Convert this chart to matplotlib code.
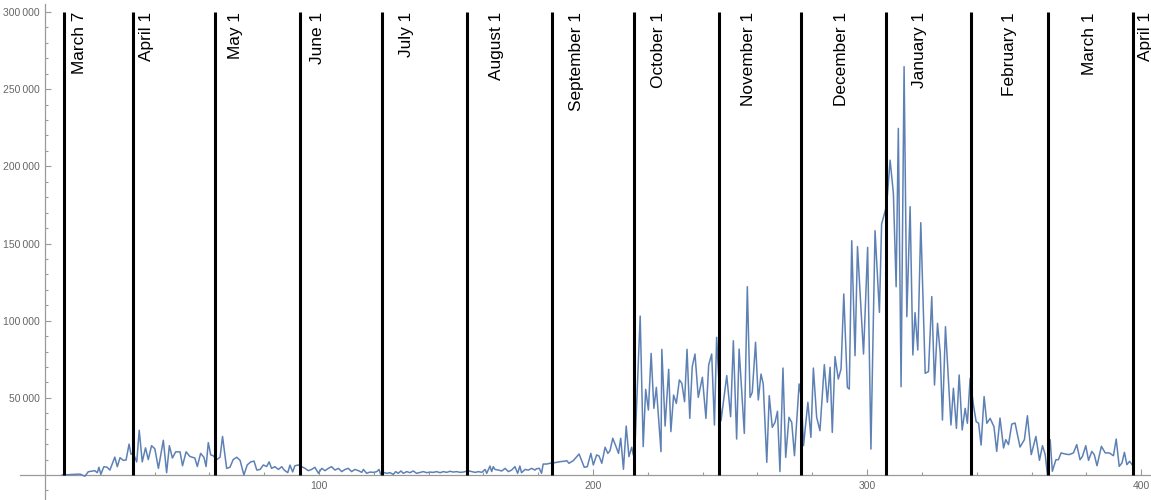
import matplotlib.pyplot as plt
from matplotlib.ticker import FixedLocator, FuncFormatter

# day index (March 1 2020 = day 1) and daily values
days = [
    6.3, 12.8, 14.6, 15.8, 18.2, 19.1, 19.7, 20.4, 21.5, 22.7, 23.7, 25.5, 26.4, 27.4,
    28.6, 29.6, 30.7, 31.4, 32.2, 33.5, 34.4, 35.5, 36.7, 37.7, 38.9, 40.1, 41.4, 43.2,
    44.4, 45.4, 46.5, 47.7, 49.3, 50.2, 51.5, 52.9, 54.7, 55.6, 56.8, 58.0, 58.8, 59.6,
    60.5, 61.4, 62.7, 63.9, 64.8, 66.3, 67.5, 68.7, 70.0, 71.2, 72.6, 73.8, 75.1, 76.3,
    77.3, 78.5, 79.7, 80.9, 81.8, 82.7, 83.9, 85.2, 86.4, 87.3, 88.6, 89.4, 90.4, 91.2,
    92.5,
    93.7, 94.9, 96.1, 97.3, 98.5, 99.8, 101.0, 102.2, 103.4, 104.6, 105.8, 107.1, 108.3,
    109.5, 110.7, 111.9, 113.1, 114.4, 115.6, 116.2, 117.4, 118.6, 119.9, 121.1, 121.9,
    122.5, 123.5, 124.7, 125.9, 127.1, 128.0, 128.9, 129.9, 130.8, 132.0, 133.2, 134.4,
    135.6, 136.9, 138.1, 139.3, 140.5, 141.7, 142.9, 144.2, 145.4, 146.6, 147.8, 149.0,
    150.2, 151.5, 152.7, 154.5, 155.7, 157.0, 158.2, 159.4, 160.6, 161.2, 162.4, 163.0,
    163.6, 164.2, 165.5, 166.7, 167.9, 169.1, 170.3, 171.5, 172.5, 173.3, 173.9, 175.2,
    176.4, 177.6, 178.8, 179.4, 180.4, 181.2, 181.8, 183.1, 184.3, 186.1, 187.9, 189.8,
    190.4, 191.2, 192.8, 194.9, 196.8, 197.9, 199.2, 200.1, 201.3, 202.2, 203.2, 204.4,
    205.4, 206.2, 207.2, 208.3, 209.3, 210.1, 211.1, 212.1, 213.1, 214.1, 214.7, 215.3,
    217.2, 218.3, 219.2, 220.2, 221.2, 222.2, 223.1, 224.8, 225.1, 226.3, 227.6, 228.4,
    229.4, 230.4, 231.5, 232.4, 233.4, 234.3, 235.3, 236.2, 237.2, 238.4, 239.9, 241.2,
    242.2, 243.3, 244.3,
    245.1, 246.7, 248.8, 250.2, 251.2, 252.4, 253.3, 255.2, 256.3, 257.3, 258.1, 259.3,
    260.3, 261.3, 262.1, 263.4, 264.3, 265.4, 266.4, 267.3, 268.2, 269.3, 270.3, 271.5,
    272.5, 273.5, 275.2, 276.0, 276.8, 278.4, 279.5, 280.4, 281.6, 282.8, 284.4, 285.5,
    286.5, 287.3, 288.3, 289.5, 290.5, 291.5, 292.8, 293.5, 294.4, 295.6, 296.5, 298.7,
    300.2, 301.4, 302.9, 304.5, 305.3, 307.1,
    308.4, 309.6, 310.6, 311.4, 312.4, 313.5, 314.5, 315.7, 316.7, 317.5, 318.5, 319.6,
    321.2, 322.4, 323.6, 324.6, 325.7, 326.7, 327.5, 328.6, 330.6, 331.5, 332.6, 333.6,
    334.7, 335.8, 336.6, 337.6, 338.8, 339.8, 340.7, 341.6, 342.7, 343.7, 344.9, 346.3,
    347.3, 348.5, 349.8, 350.6, 351.6, 352.8, 354.0, 355.8, 357.4, 358.5, 359.9, 361.6,
    362.9, 364.0, 365.0, 365.8, 366.8, 367.6, 368.9, 369.8, 370.8, 372.3, 373.7, 375.3,
    376.5, 377.7, 378.6, 379.8, 380.8, 382.0, 382.9, 383.9, 385.5, 386.9, 388.4, 389.9,
    390.9, 392.0, 393.0, 393.9, 394.8, 395.8, 396.7, 397.3,
]
cases = [
    0, 600, -800, 2100, 2800, 1500, 5000, 500, 5400, 5000, 3200, 11600, 5400, 11200,
    9500, 9700, 20000, 13500, 14000, 8500, 29000, 8500, 17600, 10000, 19000, 17000, 4300, 22500,
    1500, 19000, 11000, 15000, 15000, 6000, 15000, 12000, 11000, 5500, 14000, 11500, 5500, 21000,
    13000, 12500, 10000, 11500, 25000, 4300, 5000, 10000, 11500, 9500, 0, 6500, 8500, 9000,
    3200, 3600, 6500, 5500, 8500, 4300, 5400, 3600, 5400, 3200, 1500, 6400, 2000, 6000,
    6500,
    5400, 4300, 2800, 3600, 5000, 1100, 4300, 2800, 4300, 5400, 3200, 4300, 2200,
    3600, 4300, 2200, 3600, 2800, 1700, 3600, 1100, 1900, 1700, 2200, 3600,
    500, 1700, 1100, 1500, 400, 2200, 1100, 2600, 1100, 2200, 1500, 2600,
    1100, 1700, 2200, 1500, 1900, 1700, 2200, 1500, 2200, 1700, 2400, 1900,
    2200, 1700, 1900, 2800, 2200, 1700, 2200, 1700, 3600, 1100, 5800, 2200,
    5400, 3600, 3200, 2600, 4300, 2200, 3200, 5400, 1100, 5800, 1500, 3600,
    3200, 4300, 3200, 4100, 4300, 1100, 7100, 7100, 7600, 8000, 8600, 9000,
    9300, 7600, 9300, 13600, 5000, 5400, 14000, 6500, 13000, 12300, 7600, 18000,
    14000, 15800, 23800, 18800, 14000, 23800, 3700, 31700, 11900, 18000, 13000, 18400,
    103000, 18400, 55500, 42100, 78800, 43200, 56800, 15100, 81400, 31700, 68500, 28100,
    51800, 46400, 61600, 59400, 47500, 81400, 36700, 70200, 78400, 50300, 63300, 36700,
    71300, 78400, 32400,
    89200, 35200, 64400, 37800, 87000, 23300, 81600, 27000, 122000, 50300, 53600, 86000,
    48600, 65400, 59000, 8200, 51400, 30900, 34100, 41300, 2200, 69300, 11400, 37400,
    34100, 12500, 59000, 50300, 19000, 47100, 24400, 69300, 37400, 28700, 71500, 47100,
    69800, 27600, 76700, 62200, 68700, 117300, 56800, 55700, 151800, 77300, 148000, 78400,
    147500, 16800, 158300, 105400, 162600, 174500,
    204000, 182500, 122000, 224600, 57200, 264600, 102600, 173900, 77800, 105200, 81000, 163500,
    65900, 67000, 115600, 58300, 98300, 78800, 35600, 96100, 32400, 56200, 30200, 64800,
    29200, 43200, 33500, 62600, 45400, 34600, 33500, 19400, 50800, 33500, 36700, 31300,
    15300, 36900, 17500, 22900, 19700, 33000, 33700, 18100, 22900, 38400, 13200, 25000,
    9500, 19000, 13200, 200, 22900, 2400, 9900, 9900, 14300, 13600, 13200, 14300,
    19700, 9900, 12100, 19000, 9500, 15300, 13200, 6000, 18600, 14300, 14300, 12500,
    23300, 5600, 7800, 14700, 6700, 8900, 6700, 5600,
]

month_days = [7, 32, 62, 93, 123, 154, 185, 215, 246, 276, 307, 338, 366, 397]
month_names = ["March 7", "April 1", "May 1", "June 1", "July 1", "August 1",
               "September 1", "October 1", "November 1", "December 1", "January 1",
               "February 1", "March 1", "April 1"]
# where each label sits (x in days), not evenly offset in the original
label_x = [9.8, 34.4, 66.8, 96.7, 129.2, 162.0, 191.2, 221.2, 254.0, 287.8,
           316.4, 349.1, 378.5, 398.7]

line_blue = '#5E81B5'
axis_grey = '#9a9a9a'
label_grey = '#666666'
fonts = ['Liberation Sans', 'DejaVu Sans']

fig = plt.figure(figsize=(11.51, 5.0), dpi=100)
ax = fig.add_axes([0, 0, 1, 1])

ax.plot(days, cases, color=line_blue, lw=1.1, zorder=3)
ax.vlines(month_days, 0, 300000, color='black', lw=2.2, zorder=4)
for lx, name in zip(label_x, month_names):
    ax.text(lx, 300000, name, rotation=90, ha='left', va='top',
            fontsize=12.4, family=fonts)

# y axis sits at pixel 45, 2.74 px per day
ax.set_xlim(-16.4, 403.6)
ax.set_ylim(-16200, 307800)

for side in ['top', 'right']:
    ax.spines[side].set_visible(False)
ax.spines['left'].set_position(('data', 0))
ax.spines['bottom'].set_position(('data', 0))
ax.spines['left'].set_bounds(-16200, 305000)
ax.spines['bottom'].set_bounds(-9.1, 403.6)
for side in ['left', 'bottom']:
    ax.spines[side].set_color(axis_grey)
    ax.spines[side].set_linewidth(0.9)

ax.xaxis.set_major_locator(FixedLocator([100, 200, 300, 400]))
ax.xaxis.set_minor_locator(FixedLocator([v for v in range(20, 401, 20) if v % 100]))
ax.yaxis.set_major_locator(FixedLocator(list(range(50000, 300001, 50000))))
ax.yaxis.set_minor_locator(FixedLocator([v for v in range(-10000, 300001, 10000) if v % 50000]))
ax.yaxis.set_major_formatter(FuncFormatter(lambda v, p: f"{int(v):,}".replace(',', '\u2009')))

ax.tick_params(which='both', direction='in', color=axis_grey, width=0.8,
               labelcolor=label_grey, labelsize=7.5)
ax.tick_params(which='major', length=4)
ax.tick_params(which='minor', length=2.2)
ax.tick_params(axis='y', pad=3.5)
ax.tick_params(axis='x', pad=4)
for lab in ax.get_xticklabels() + ax.get_yticklabels():
    lab.set_family(fonts)

fig.savefig('out.png', dpi=100)
